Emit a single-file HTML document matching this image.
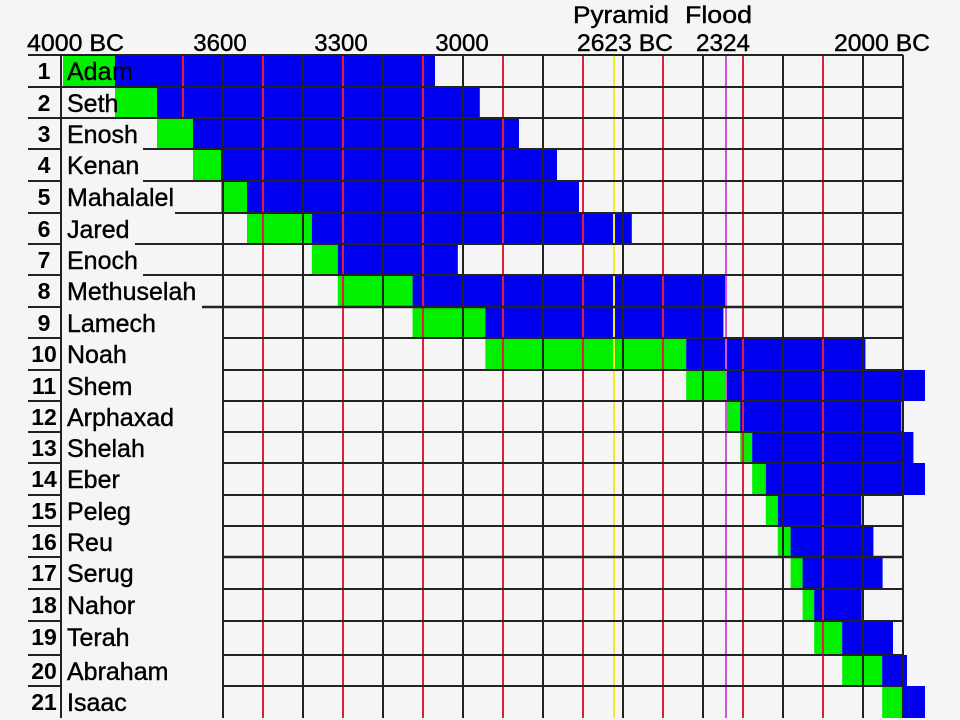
<!DOCTYPE html>
<html><head><meta charset="utf-8"><style>
html,body{margin:0;padding:0;background:#f5f5f5;}
svg{display:block;}
text{font-family:"Liberation Sans",Arial,sans-serif;fill:#000;}
</style></head><body>
<svg width="960" height="720" viewBox="0 0 960 720" xmlns="http://www.w3.org/2000/svg">
<rect width="960" height="720" fill="#f5f5f5"/>
<g font-size="24" stroke="#000" stroke-width="0.4">
<text x="27" y="51" textLength="97" lengthAdjust="spacingAndGlyphs">4000 BC</text>
<text x="220" y="51" text-anchor="middle">3600</text>
<text x="341" y="51" text-anchor="middle">3300</text>
<text x="462" y="51" text-anchor="middle">3000</text>
<text x="573" y="23" textLength="96" lengthAdjust="spacingAndGlyphs">Pyramid</text>
<text x="577" y="51" textLength="96" lengthAdjust="spacingAndGlyphs">2623 BC</text>
<text x="685" y="23" textLength="67" lengthAdjust="spacingAndGlyphs">Flood</text>
<text x="696" y="51" textLength="54" lengthAdjust="spacingAndGlyphs">2324</text>
<text x="834" y="51" textLength="96" lengthAdjust="spacingAndGlyphs">2000 BC</text>
</g>
<g id="bars"></g>
<g id="lines"></g>
<g id="labels"></g>
<script>
var rows=[55,87,118,149,181,213,244,275,307,338,370,401,432,463,495,526,557,589,621,655,686,718];
var d=[["Adam",0,130,930],["Seth",130,235,1042],["Enosh",235,325,1140],["Kenan",325,395,1235],["Mahalalel",395,460,1290],["Jared",460,622,1422],["Enoch",622,687,987],["Methuselah",687,874,1656],["Lamech",874,1056,1651],["Noah",1056,1558,2006],["Shem",1558,1658,2158],["Arphaxad",1658,1693,2096],["Shelah",1693,1723,2126],["Eber",1723,1757,2187],["Peleg",1757,1787,1996],["Reu",1787,1819,2026],["Serug",1819,1849,2049],["Nahor",1849,1878,1997],["Terah",1878,1948,2075],["Abraham",1948,2048,2110],["Isaac",2048,2100,2228]];
var ls=[62,62,143,143,175,135,143,202,222,222,222,222,222,222,222,222,222,222,222,222,222];
var NS="http://www.w3.org/2000/svg";
function X(y){return Math.min(925,63+y*0.4);}
function el(p,t,a,txt){var e=document.createElementNS(NS,t);for(var k in a)e.setAttribute(k,a[k]);if(txt)e.textContent=txt;document.getElementById(p).appendChild(e);return e;}
for(var i=0;i<21;i++){var r=d[i],y0=rows[i],y1=rows[i+1];
 var b=X(r[1]),c=X(r[2]),e=X(r[3]);
 if(c>b)el("bars","rect",{x:b,y:y0,width:c-b,height:y1-y0,fill:"#00f000"});
 el("bars","rect",{x:c,y:y0,width:e-c,height:y1-y0,fill:"#0000f0"});
 el("labels","text",{x:44,y:y0+24,"font-size":23,"font-weight":"bold","text-anchor":"middle"},String(i+1));
 var t=el("labels","text",{x:67,y:y0+25,"font-size":25,stroke:"#000","stroke-width":0.4},r[0]);
 if(i==0){t.textContent="Ada";el("labels","text",{x:112,y:y0+25,"font-size":25,fill:"#f0e000"},"m");}
}
for(var x=223;x<=863;x+=80)el("lines","line",{x1:x,y1:55,x2:x,y2:718,stroke:"#222","stroke-width":2});
el("lines","line",{x1:903,y1:55,x2:903,y2:718,stroke:"#222","stroke-width":2});
el("lines","line",{x1:61,y1:55,x2:61,y2:718,stroke:"#222","stroke-width":2});
el("lines","line",{x1:183,y1:55,x2:183,y2:118,stroke:"#e0203a","stroke-width":2});
for(var x=263;x<=823;x+=80)el("lines","line",{x1:x,y1:55,x2:x,y2:718,stroke:"#e0203a","stroke-width":2});
el("lines","line",{x1:614,y1:55,x2:614,y2:718,stroke:"#f0f020","stroke-width":2});
el("lines","line",{x1:726,y1:55,x2:726,y2:718,stroke:"#d050e0","stroke-width":2});
el("lines","line",{x1:28,y1:55,x2:903,y2:55,stroke:"#222","stroke-width":2});
for(var i=1;i<21;i++){var y=rows[i];
 el("lines","line",{x1:28,y1:y,x2:60,y2:y,stroke:"#222","stroke-width":2});
 el("lines","line",{x1:ls[i-1],y1:y,x2:903,y2:y,stroke:"#222","stroke-width":(i==8||i==16)?2.5:2});}
</script>
</svg>
</body></html>
